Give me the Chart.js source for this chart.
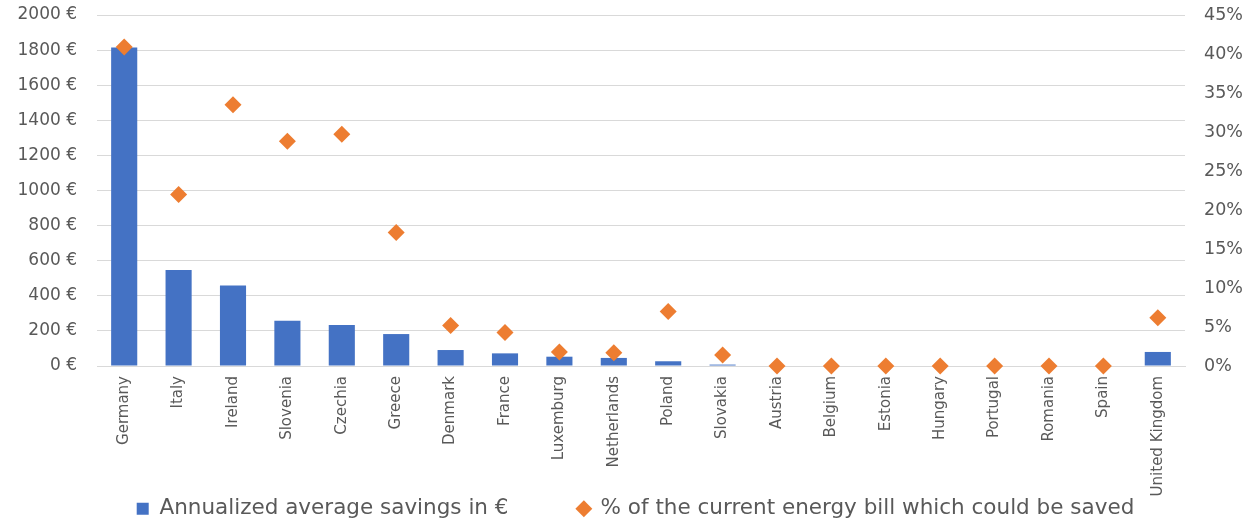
<!DOCTYPE html>
<html>
<head>
<meta charset="utf-8">
<script src="https://cdn.jsdelivr.net/npm/chart.js@4.4.1/dist/chart.umd.min.js"></script>
<style>
    html, body { margin: 0; padding: 0; background: #ffffff; }
    #wrap { width: 1255px; height: 521px; position: relative; }
</style>
</head>
<body>
<div id="wrap"><canvas id="savingsChart"></canvas></div>
<script>
const countries = ['Germany', 'Italy', 'Ireland', 'Slovenia', 'Czechia', 'Greece', 'Denmark', 'France',
    'Luxemburg', 'Netherlands', 'Poland', 'Slovakia', 'Austria', 'Belgium', 'Estonia', 'Hungary',
    'Portugal', 'Romania', 'Spain', 'United Kingdom'];

// annualized average savings, euro
const savingsEur = [1815, 547, 458, 258, 234, 182, 91, 72, 53, 46, 27, 8, 0, 0, 0, 0, 0, 0, 0, 80];

// share of the current energy bill, percent
const billShare = [40.9, 22.0, 33.5, 28.8, 29.7, 17.1, 5.2, 4.3, 1.8, 1.7, 7.0, 1.4, 0, 0, 0, 0, 0, 0, 0, 6.2];

const eurTicks = { min: 0, max: 2000, step: 200 };
const pctTicks = { min: 0, max: 45, step: 5 };

const legendNames = ['Annualized average savings in €', '% of the current energy bill which could be saved'];
const legendStyles = ['rect', 'rectRot'];
// spacer after the first legend entry (legend padding is kept tiny so it stays low)
const legendGap = '\u00a0'.repeat(10);

const barBlue = '#4472c4';
const diamondOrange = '#ed7d31';
const textGrey = '#595959';
const gridGrey = '#d9d9d9';

Chart.defaults.font.family = "'DejaVu Sans', sans-serif";
Chart.defaults.color = textGrey;

function noEdgePadding(scale, width) {
    scale.width = width;
    scale.paddingTop = 0;
    scale.paddingBottom = 0;
}

const ctx = document.getElementById('savingsChart').getContext('2d');
new Chart(ctx, {
    type: 'bar',
    data: {
        labels: countries,
        datasets: [{
            label: legendNames[0],
            data: savingsEur,
            backgroundColor: barBlue,
            borderWidth: 0,
            yAxisID: 'y',
            categoryPercentage: 1,
            barPercentage: 0.48,
            order: 2
        }, {
            type: 'line',
            label: legendNames[1],
            data: billShare,
            showLine: false,
            pointStyle: 'rectRot',
            pointRadius: 8.5,
            pointHoverRadius: 8.5,
            pointBorderWidth: 0,
            backgroundColor: diamondOrange,
            borderColor: diamondOrange,
            borderWidth: 0,
            yAxisID: 'y1',
            clip: false,
            order: 1
        }]
    },
    options: {
        responsive: true,
        maintainAspectRatio: false,
        animation: false,
        layout: { padding: { top: 15, bottom: -8.5, left: 16, right: 0 } },
        plugins: {
            tooltip: { enabled: false },
            legend: {
                position: 'bottom',
                labels: {
                    usePointStyle: true,
                    boxHeight: 12,
                    boxWidth: 12,
                    padding: 1,
                    color: textGrey,
                    font: { size: 21.5 },
                    generateLabels: chart => Chart.defaults.plugins.legend.labels.generateLabels(chart)
                        .sort((a, b) => a.datasetIndex - b.datasetIndex)
                        .map(item => ({
                            ...item,
                            text: item.datasetIndex === 0 ? item.text + legendGap : item.text,
                            pointStyle: legendStyles[item.datasetIndex],
                            lineWidth: 0
                        }))
                }
            }
        },
        scales: {
            x: {
                grid: { display: false, drawTicks: false },
                border: { display: true, color: gridGrey, width: 1 },
                ticks: {
                    minRotation: 90,
                    maxRotation: 90,
                    padding: 10,
                    autoSkip: false,
                    font: { size: 15 }
                },
                afterFit: scale => { scale.height = 131; }
            },
            y: {
                position: 'left',
                min: eurTicks.min,
                max: eurTicks.max,
                grid: { color: gridGrey, lineWidth: 1, drawTicks: false },
                border: { display: false },
                ticks: {
                    stepSize: eurTicks.step,
                    padding: 20,
                    font: { size: 17 },
                    callback: v => v + ' €'
                },
                afterFit: scale => noEdgePadding(scale, 81)
            },
            y1: {
                position: 'right',
                min: pctTicks.min,
                max: pctTicks.max,
                grid: { display: false, drawTicks: false },
                border: { display: false },
                ticks: {
                    stepSize: pctTicks.step,
                    padding: 19,
                    font: { size: 17.5 },
                    callback: v => v + '%'
                },
                afterFit: scale => noEdgePadding(scale, 70)
            }
        }
    }
});
</script>
</body>
</html>
